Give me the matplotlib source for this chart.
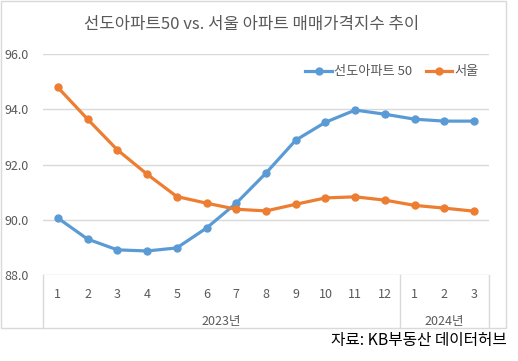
import matplotlib
matplotlib.use('Agg')
import matplotlib.pyplot as plt
from matplotlib.patches import Rectangle

plt.rcParams['font.family'] = ['Noto Sans CJK KR', 'DejaVu Sans']

# data
months = ['1', '2', '3', '4', '5', '6', '7', '8', '9', '10', '11', '12', '1', '2', '3']
years = ['2023년', '2024년']
year_counts = [12, 3]
sundo50 = [90.06, 89.30, 88.91, 88.87, 88.98, 89.70, 90.60, 91.69, 92.88, 93.53,
           93.97, 93.82, 93.64, 93.57, 93.57]
seoul = [94.79, 93.64, 92.53, 91.65, 90.84, 90.60, 90.38, 90.32, 90.56, 90.79,
         90.83, 90.71, 90.52, 90.42, 90.31]
yticks = [88.0, 90.0, 92.0, 94.0, 96.0]

W, H = 518, 361
fig = plt.figure(figsize=(W / 100, H / 100), dpi=100)
# plot area in pixels: x 43..489, y 54..275
ax = fig.add_axes([43 / W, 1 - 275 / H, (489 - 43) / W, (275 - 54) / H])

x = list(range(1, len(months) + 1))
ax.plot(x, sundo50, color='#5B9BD5', lw=2.3, marker='o', ms=5, label='선도아파트 50', zorder=3)
ax.plot(x, seoul, color='#ED7D31', lw=2.3, marker='o', ms=5, label='서울', zorder=3)

ax.set_xlim(0.5, len(months) + 0.5)
ax.set_ylim(88, 96)
ax.set_yticks(yticks)
ax.set_yticklabels([f'{v:.1f}' for v in yticks], color='#595959', fontsize=9)
ax.tick_params(axis='y', length=0, pad=10)
ax.set_xticks([])
for s in ax.spines.values():
    s.set_visible(False)
ax.grid(axis='y', color='#d9d9d9', lw=1)
ax.set_axisbelow(True)

# category axis: month labels, year labels, separators
for xi, m in zip(x, months):
    ax.annotate(m, (xi, 0), xycoords=('data', 'axes fraction'), xytext=(0, -19 * 0.72),
                textcoords='offset points', ha='center', va='center',
                fontsize=9, color='#595959')
bottom = -(328 - 275) / (275 - 54)
start = 0.5
ax.plot([start, start], [0, bottom], transform=ax.get_xaxis_transform(),
        color='#d9d9d9', lw=1, clip_on=False)
for yr, n in zip(years, year_counts):
    end = start + n
    ax.plot([end, end], [0, bottom], transform=ax.get_xaxis_transform(),
            color='#d9d9d9', lw=1, clip_on=False)
    ax.annotate(yr, ((start + end) / 2, 0), xycoords=('data', 'axes fraction'),
                xytext=(0, -46 * 0.72), textcoords='offset points', ha='center',
                va='center', fontsize=9, color='#595959')
    start = end

ax.legend(loc='center right', bbox_to_anchor=(479 / W, 1 - 72 / H),
          bbox_transform=fig.transFigure, ncol=2, frameon=False, fontsize=9.5,
          labelcolor='#595959', handlelength=2.0, handletextpad=0.2,
          columnspacing=1.0, borderaxespad=0, borderpad=0)

fig.text(252 / W, 1 - 25 / H, '선도아파트50 vs. 서울 아파트 매매가격지수 추이',
         ha='center', va='center', fontsize=12, color='#595959')
fig.text(507 / W, 1 - 341 / H, '자료: KB부동산 데이터허브', ha='right', va='center',
         fontsize=11.3, color='black')

fig.add_artist(Rectangle((0.5 / W, 1 - 328 / H), 505 / W, 327.5 / H,
                         transform=fig.transFigure, fill=False, ec='#d9d9d9', lw=1))

fig.savefig('out.png', dpi=100)
